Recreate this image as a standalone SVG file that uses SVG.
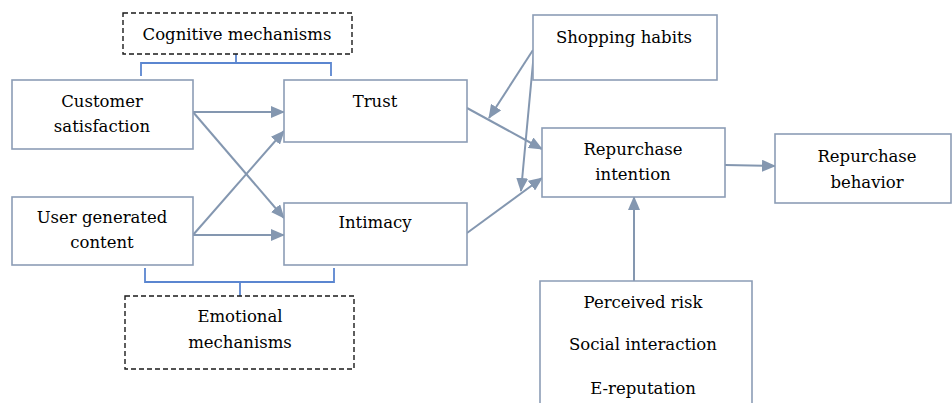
<svg xmlns="http://www.w3.org/2000/svg" width="952" height="403" viewBox="0 0 952 403">
<style>
.box{fill:#fff;stroke:#8c9db6;stroke-width:1.6}
.dash{fill:#fff;stroke:#1a1a1a;stroke-width:1.4;stroke-dasharray:5 3}
.t{font-family:"DejaVu Serif","Liberation Serif",serif;font-size:16.5px;fill:#000;text-anchor:middle}
.arr{fill:none;stroke:#8497b0;stroke-width:2;marker-end:url(#ah)}
.br{fill:none;stroke:#5b86d0;stroke-width:1.8}
</style>
<defs>
<marker id="ah" markerUnits="userSpaceOnUse" markerWidth="14" markerHeight="12" viewBox="0 0 14 12" refX="13" refY="6" orient="auto">
<path d="M0,0 L14,6 L0,12 Z" fill="#8497b0"/>
</marker>
</defs>
<rect width="952" height="403" fill="#fff"/>
<g id="connectors">
<path class="br" d="M236,54 V63 M141,76 V63 H331 V76"/>
<path class="br" d="M145,268 V282 H334 V268 M240,282 V296"/>
<line class="arr" x1="193" y1="112" x2="284" y2="112"/>
<line class="arr" x1="193" y1="112" x2="284" y2="218"/>
<line class="arr" x1="193" y1="235" x2="284" y2="131"/>
<line class="arr" x1="193" y1="235" x2="284" y2="235"/>
<line class="arr" x1="467" y1="108" x2="542" y2="149"/>
<line class="arr" x1="533" y1="50" x2="489" y2="118"/>
<line class="arr" x1="534" y1="52" x2="521" y2="191"/>
<line class="arr" x1="467" y1="233" x2="542" y2="178"/>
<line class="arr" x1="725" y1="165" x2="775" y2="166"/>
<line class="arr" x1="634" y1="281" x2="634" y2="197"/>
</g>
<g id="cognitive"><rect class="dash" x="123" y="13" width="229" height="41"/><text class="t" x="237" y="40">Cognitive mechanisms</text></g>
<g id="customer"><rect class="box" x="12" y="80" width="181" height="69"/><text class="t" x="102" y="107">Customer</text><text class="t" x="102" y="132">satisfaction</text></g>
<g id="trust"><rect class="box" x="284" y="80" width="183" height="62"/><text class="t" x="375" y="107">Trust</text></g>
<g id="ugc"><rect class="box" x="12" y="197" width="181" height="68"/><text class="t" x="102" y="223">User generated</text><text class="t" x="102" y="248">content</text></g>
<g id="intimacy"><rect class="box" x="284" y="203" width="183" height="62"/><text class="t" x="375" y="228">Intimacy</text></g>
<g id="emotional"><rect class="dash" x="125" y="296" width="229" height="73"/><text class="t" x="240" y="322">Emotional</text><text class="t" x="240" y="348">mechanisms</text></g>
<g id="shopping"><rect class="box" x="533" y="15" width="184" height="65"/><text class="t" x="624" y="43">Shopping habits</text></g>
<g id="intention"><rect class="box" x="542" y="128" width="183" height="69"/><text class="t" x="633" y="155">Repurchase</text><text class="t" x="633" y="180">intention</text></g>
<g id="behavior"><rect class="box" x="775" y="134" width="176" height="69"/><text class="t" x="867" y="162">Repurchase</text><text class="t" x="867" y="188">behavior</text></g>
<g id="moderators"><path class="box" d="M540,405 V281 H752 V405"/><text class="t" x="643" y="308">Perceived risk</text><text class="t" x="643" y="350">Social interaction</text><text class="t" x="643" y="394">E-reputation</text></g>
</svg>
